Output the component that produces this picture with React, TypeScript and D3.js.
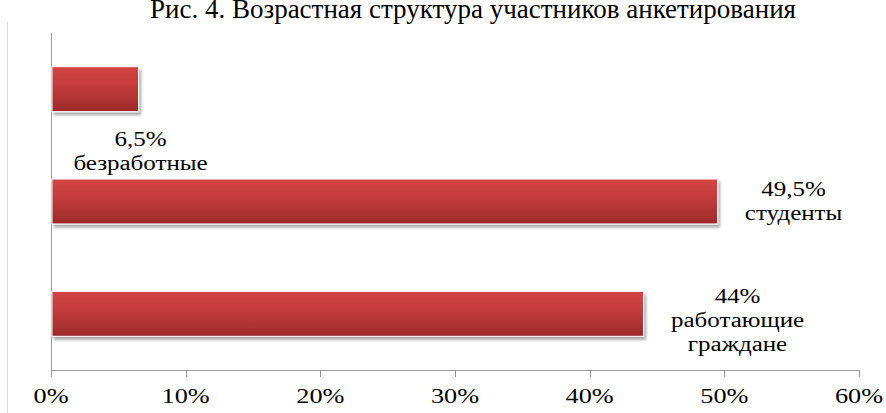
import { useEffect, useRef } from "react";
import * as d3 from "d3";

const categories = ["безработные", "студенты", "работающие граждане"];
const values = [6.5, 49.5, 44];
const valueLabels = ["6,5%", "49,5%", "44%"];
const nameLines = [["безработные"], ["студенты"], ["работающие", "граждане"]];
const xTicks = [0, 10, 20, 30, 40, 50, 60];
const title = "Рис. 4. Возрастная структура участников анкетирования";

const FONT = "Liberation Serif, DejaVu Serif, Times New Roman, serif";
const STRETCH = 1.25;

export default function App() {
  const svgRef = useRef<SVGSVGElement | null>(null);

  useEffect(() => {
    if (!svgRef.current) return;
    const H = 413;
    const left = 51, right = 859, top = 33, bottom = 370;

    const svg = d3.select(svgRef.current);
    svg.selectAll("*").remove();

    const defs = svg.append("defs");
    const grad = defs.append("linearGradient").attr("id", "barGrad")
      .attr("x1", 0).attr("y1", 0).attr("x2", 0).attr("y2", 1);
    grad.append("stop").attr("offset", "0%").attr("stop-color", "#d44444");
    grad.append("stop").attr("offset", "45%").attr("stop-color", "#c23a3a");
    grad.append("stop").attr("offset", "100%").attr("stop-color", "#9c2a2b");
    const filt = defs.append("filter").attr("id", "shadow")
      .attr("x", "-5%").attr("y", "-20%").attr("width", "115%").attr("height", "160%");
    filt.append("feDropShadow").attr("dx", 2).attr("dy", 3).attr("stdDeviation", 1.8)
      .attr("flood-color", "#000").attr("flood-opacity", 0.35);

    // outer frame line on the left
    svg.append("line").attr("x1", 7.5).attr("x2", 7.5).attr("y1", 22).attr("y2", H)
      .attr("stroke", "#d9d9d9").attr("stroke-width", 1);

    // title (cut at the top edge, as in the source scan)
    svg.append("text")
      .attr("transform", `translate(473,18)`)
      .attr("text-anchor", "middle")
      .style("font-family", FONT).style("font-size", "27px").attr("fill", "#000")
      .text(title);

    const x = d3.scaleLinear().domain([0, 60]).range([left, right]);
    const y = d3.scaleBand().domain(categories).range([top, bottom])
      .paddingInner(0.6).paddingOuter(0.3);

    // axes
    const axisColor = "#9a9a9a";
    svg.append("line").attr("x1", left + 0.5).attr("x2", left + 0.5).attr("y1", top).attr("y2", bottom)
      .attr("stroke", axisColor);
    svg.append("line").attr("x1", left).attr("x2", right + 0.5).attr("y1", bottom + 0.5).attr("y2", bottom + 0.5)
      .attr("stroke", axisColor);
    xTicks.forEach((t) => {
      const tx = Math.round(x(t)) + 0.5;
      svg.append("line").attr("x1", tx).attr("x2", tx).attr("y1", bottom).attr("y2", bottom + 7)
        .attr("stroke", axisColor);
      svg.append("text")
        .attr("transform", `translate(${x(t)},403) scale(${STRETCH},1)`)
        .attr("text-anchor", "middle")
        .style("font-family", FONT).style("font-size", "21px").attr("fill", "#000")
        .text(`${t}%`);
    });

    // bars
    categories.forEach((c, i) => {
      svg.append("rect")
        .attr("x", x(0) + 1).attr("y", y(c)!)
        .attr("width", x(values[i]) - x(0) - 1).attr("height", y.bandwidth())
        .attr("fill", "url(#barGrad)")
        .attr("stroke", "#fff").attr("stroke-width", 1)
        .attr("filter", "url(#shadow)");
    });

    // data labels (manually placed like in the original)
    const labelPos = [
      { dx: 2, dy: y.bandwidth() + 34 },
      { dx: 76, dy: y.bandwidth() / 2 - 6 },
      { dx: 94, dy: y.bandwidth() / 2 - 11 },
    ];
    categories.forEach((c, i) => {
      const cx = x(values[i]) + labelPos[i].dx;
      const by = y(c)! + labelPos[i].dy;
      const lines = [valueLabels[i], ...nameLines[i]];
      lines.forEach((ln, k) => {
        svg.append("text")
          .attr("transform", `translate(${cx},${by + k * 24}) scale(${STRETCH},1)`)
          .attr("text-anchor", "middle")
          .style("font-family", FONT).style("font-size", "20px").attr("fill", "#000")
          .text(ln);
      });
    });
  }, []);

  return (
    <svg
      ref={svgRef}
      width={886}
      height={413}
      style={{ display: "block", position: "absolute", left: 0, top: 0, background: "#fff" }}
    />
  );
}
